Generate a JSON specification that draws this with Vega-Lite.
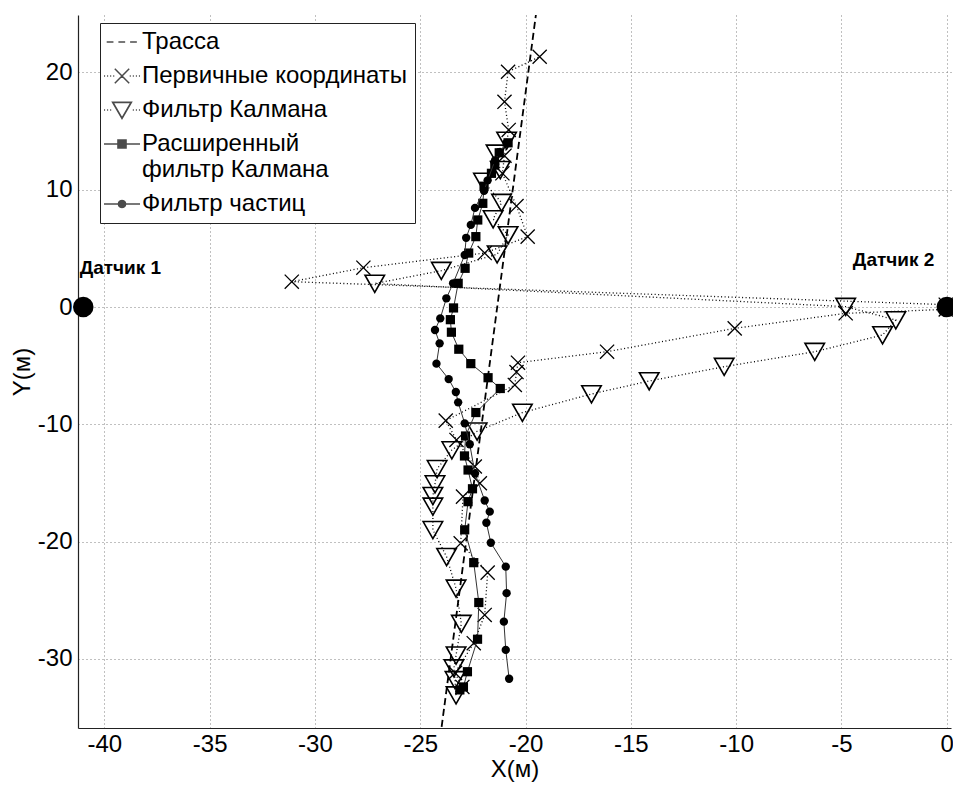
{
  "$schema": "https://vega.github.io/schema/vega-lite/v6.json",
  "width": 873,
  "height": 713,
  "autosize": "none",
  "padding": {"left": 78, "top": 15, "right": 2, "bottom": 59},
  "background": "white",
  "datasets": {
    "track": [{"i": 1, "x": -23.985, "y": -35.8}, {"i": 2, "x": -19.51, "y": 24.9}],
    "raw": [
      {"i": 1, "x": -23.0, "y": -32.4}, {"i": 2, "x": -23.35, "y": -31.2}, {"i": 3, "x": -22.46, "y": -28.67},
      {"i": 4, "x": -21.94, "y": -26.26}, {"i": 5, "x": -21.8, "y": -22.65}, {"i": 6, "x": -23.08, "y": -20.15},
      {"i": 7, "x": -22.97, "y": -16.17}, {"i": 8, "x": -22.17, "y": -15.03}, {"i": 9, "x": -22.41, "y": -13.6},
      {"i": 10, "x": -23.28, "y": -11.34}, {"i": 11, "x": -23.79, "y": -9.69}, {"i": 12, "x": -20.51, "y": -6.65},
      {"i": 13, "x": -20.43, "y": -5.55}, {"i": 14, "x": -20.36, "y": -4.75}, {"i": 15, "x": -16.13, "y": -3.81},
      {"i": 16, "x": -10.07, "y": -1.82}, {"i": 17, "x": -4.8, "y": -0.54}, {"i": 18, "x": -0.05, "y": -0.2},
      {"i": 19, "x": -0.05, "y": 0.2}, {"i": 20, "x": -31.1, "y": 2.16}, {"i": 21, "x": -27.7, "y": 3.35},
      {"i": 22, "x": -21.94, "y": 4.6}, {"i": 23, "x": -19.9, "y": 6.0}, {"i": 24, "x": -20.43, "y": 8.61},
      {"i": 25, "x": -21.1, "y": 11.4}, {"i": 26, "x": -21.0, "y": 12.9}, {"i": 27, "x": -20.8, "y": 15.1},
      {"i": 28, "x": -21.0, "y": 17.5}, {"i": 29, "x": -20.83, "y": 20.06}, {"i": 30, "x": -19.33, "y": 21.34}
    ],
    "kf": [
      {"i": 1, "x": -23.3, "y": -33.1}, {"i": 2, "x": -23.35, "y": -31.8}, {"i": 3, "x": -23.4, "y": -30.8},
      {"i": 4, "x": -23.3, "y": -29.7}, {"i": 5, "x": -23.05, "y": -27.0}, {"i": 6, "x": -23.3, "y": -24.0},
      {"i": 7, "x": -23.75, "y": -21.3}, {"i": 8, "x": -24.4, "y": -19.0}, {"i": 9, "x": -24.4, "y": -17.0},
      {"i": 10, "x": -24.4, "y": -16.1}, {"i": 11, "x": -24.3, "y": -15.1}, {"i": 12, "x": -24.2, "y": -13.8},
      {"i": 13, "x": -23.5, "y": -12.2}, {"i": 14, "x": -22.3, "y": -10.6}, {"i": 15, "x": -20.15, "y": -9.0},
      {"i": 16, "x": -16.87, "y": -7.42}, {"i": 17, "x": -14.13, "y": -6.31}, {"i": 18, "x": -10.57, "y": -5.09},
      {"i": 19, "x": -6.27, "y": -3.81}, {"i": 20, "x": -3.05, "y": -2.39}, {"i": 21, "x": -2.42, "y": -1.11},
      {"i": 22, "x": -4.8, "y": 0.03}, {"i": 23, "x": -27.16, "y": 2.0}, {"i": 24, "x": -24.0, "y": 3.1},
      {"i": 25, "x": -21.35, "y": 4.5}, {"i": 26, "x": -20.83, "y": 6.14}, {"i": 27, "x": -21.54, "y": 7.5},
      {"i": 28, "x": -21.14, "y": 8.9}, {"i": 29, "x": -22.0, "y": 10.7}, {"i": 30, "x": -21.2, "y": 11.7},
      {"i": 31, "x": -21.4, "y": 13.1}, {"i": 32, "x": -20.9, "y": 14.2}
    ],
    "ekf": [
      {"i": 1, "x": -23.12, "y": -32.65}, {"i": 2, "x": -22.95, "y": -32.4}, {"i": 3, "x": -22.76, "y": -31.1},
      {"i": 4, "x": -22.28, "y": -28.33}, {"i": 5, "x": -22.22, "y": -25.2}, {"i": 6, "x": -22.46, "y": -21.8},
      {"i": 7, "x": -22.89, "y": -19.0}, {"i": 8, "x": -22.73, "y": -16.6}, {"i": 9, "x": -22.52, "y": -15.5},
      {"i": 10, "x": -22.73, "y": -13.9}, {"i": 11, "x": -22.9, "y": -12.7}, {"i": 12, "x": -22.85, "y": -11.0},
      {"i": 13, "x": -22.36, "y": -9.0}, {"i": 14, "x": -21.2, "y": -6.95}, {"i": 15, "x": -21.78, "y": -6.03},
      {"i": 16, "x": -22.6, "y": -4.83}, {"i": 17, "x": -23.17, "y": -3.6}, {"i": 18, "x": -23.52, "y": -2.15},
      {"i": 19, "x": -23.57, "y": -1.08}, {"i": 20, "x": -23.42, "y": -0.08}, {"i": 21, "x": -23.2, "y": 2.02},
      {"i": 22, "x": -22.87, "y": 3.3}, {"i": 23, "x": -22.7, "y": 4.6}, {"i": 24, "x": -22.36, "y": 6.0},
      {"i": 25, "x": -22.27, "y": 7.42}, {"i": 26, "x": -22.03, "y": 8.84}, {"i": 27, "x": -21.97, "y": 10.3},
      {"i": 28, "x": -21.62, "y": 11.4}, {"i": 29, "x": -21.46, "y": 12.1}, {"i": 30, "x": -21.25, "y": 13.15},
      {"i": 31, "x": -20.83, "y": 14.0}
    ],
    "pf": [
      {"i": 1, "x": -20.78, "y": -31.7}, {"i": 2, "x": -20.94, "y": -29.24}, {"i": 3, "x": -21.03, "y": -26.83},
      {"i": 4, "x": -20.9, "y": -24.4}, {"i": 5, "x": -20.94, "y": -22.14}, {"i": 6, "x": -21.65, "y": -20.1},
      {"i": 7, "x": -21.86, "y": -18.4}, {"i": 8, "x": -21.7, "y": -17.45}, {"i": 9, "x": -21.94, "y": -16.5},
      {"i": 10, "x": -22.4, "y": -14.2}, {"i": 11, "x": -22.65, "y": -11.7}, {"i": 12, "x": -22.89, "y": -9.92},
      {"i": 13, "x": -23.2, "y": -8.13}, {"i": 14, "x": -23.31, "y": -7.25}, {"i": 15, "x": -23.65, "y": -6.15},
      {"i": 16, "x": -24.23, "y": -4.83}, {"i": 17, "x": -24.08, "y": -3.1}, {"i": 18, "x": -24.3, "y": -1.96},
      {"i": 19, "x": -24.05, "y": -0.97}, {"i": 20, "x": -23.76, "y": 0.74}, {"i": 21, "x": -23.44, "y": 2.02},
      {"i": 22, "x": -22.89, "y": 4.43}, {"i": 23, "x": -22.82, "y": 5.9}, {"i": 24, "x": -22.6, "y": 7.0},
      {"i": 25, "x": -22.4, "y": 8.45}, {"i": 26, "x": -21.97, "y": 9.9}, {"i": 27, "x": -21.8, "y": 10.8},
      {"i": 28, "x": -21.45, "y": 12.5}, {"i": 29, "x": -21.25, "y": 13.2}, {"i": 30, "x": -20.9, "y": 14.0}
    ],
    "sensors": [{"x": -41.0, "y": 0.0}, {"x": 0.0, "y": 0.0}],
    "labels": [{"x": -41.17, "y": 3.34, "t": "Датчик 1"}, {"x": -4.46, "y": 4.0, "t": "Датчик 2"}]
  },
  "layer": [
    {
      "data": {"name": "track"},
      "mark": {"type": "line", "color": "black", "strokeWidth": 1.8, "strokeDash": [7, 4]},
      "encoding": {
        "x": {"field": "x", "type": "quantitative",
          "scale": {"domain": [-41.25, 0.2], "nice": false, "zero": false},
          "axis": {"values": [-40, -35, -30, -25, -20, -15, -10, -5, 0], "title": "X(м)", "labelFlush": false, "labelOverlap": false, "labelPadding": 4, "titlePadding": 1}},
        "y": {"field": "y", "type": "quantitative",
          "scale": {"domain": [-35.9, 24.9], "nice": false, "zero": false},
          "axis": {"values": [-30, -20, -10, 0, 10, 20], "title": "Y(м)", "labelOverlap": false, "labelPadding": 6, "titlePadding": 3}},
        "order": {"field": "i", "type": "quantitative"}
      }
    },
    {
      "data": {"name": "raw"},
      "mark": {"type": "line", "color": "black", "strokeWidth": 1.3, "strokeDash": [1, 2.5]},
      "encoding": {"x": {"field": "x", "type": "quantitative"}, "y": {"field": "y", "type": "quantitative"}, "order": {"field": "i", "type": "quantitative"}}
    },
    {
      "data": {"name": "raw"},
      "mark": {"type": "point", "shape": "M-1,-1L1,1M-1,1L1,-1", "size": 200, "filled": false, "color": "black", "strokeWidth": 1.3, "opacity": 1},
      "encoding": {"x": {"field": "x", "type": "quantitative"}, "y": {"field": "y", "type": "quantitative"}}
    },
    {
      "data": {"name": "kf"},
      "mark": {"type": "line", "color": "black", "strokeWidth": 1.3, "strokeDash": [1, 2.5]},
      "encoding": {"x": {"field": "x", "type": "quantitative"}, "y": {"field": "y", "type": "quantitative"}, "order": {"field": "i", "type": "quantitative"}}
    },
    {
      "data": {"name": "kf"},
      "mark": {"type": "point", "shape": "M-1,-0.85L1,-0.85L0,0.9Z", "size": 380, "filled": false, "color": "black", "strokeWidth": 1.6, "opacity": 1},
      "encoding": {"x": {"field": "x", "type": "quantitative"}, "y": {"field": "y", "type": "quantitative"}}
    },
    {
      "data": {"name": "ekf"},
      "mark": {"type": "line", "color": "#333333", "strokeWidth": 1},
      "encoding": {"x": {"field": "x", "type": "quantitative"}, "y": {"field": "y", "type": "quantitative"}, "order": {"field": "i", "type": "quantitative"}}
    },
    {
      "data": {"name": "ekf"},
      "mark": {"type": "point", "shape": "square", "size": 85, "filled": true, "color": "black", "opacity": 1},
      "encoding": {"x": {"field": "x", "type": "quantitative"}, "y": {"field": "y", "type": "quantitative"}}
    },
    {
      "data": {"name": "pf"},
      "mark": {"type": "line", "color": "#333333", "strokeWidth": 1},
      "encoding": {"x": {"field": "x", "type": "quantitative"}, "y": {"field": "y", "type": "quantitative"}, "order": {"field": "i", "type": "quantitative"}}
    },
    {
      "data": {"name": "pf"},
      "mark": {"type": "point", "shape": "circle", "size": 70, "filled": true, "color": "black", "opacity": 1},
      "encoding": {"x": {"field": "x", "type": "quantitative"}, "y": {"field": "y", "type": "quantitative"}}
    },
    {
      "data": {"name": "sensors"},
      "mark": {"type": "point", "shape": "circle", "size": 420, "filled": true, "color": "black", "opacity": 1},
      "encoding": {"x": {"field": "x", "type": "quantitative"}, "y": {"field": "y", "type": "quantitative"}}
    },
    {
      "data": {"name": "labels"},
      "mark": {"type": "text", "align": "left", "baseline": "middle", "font": "Liberation Sans", "fontWeight": "bold", "fontSize": 19, "color": "black"},
      "encoding": {"x": {"field": "x", "type": "quantitative"}, "y": {"field": "y", "type": "quantitative"}, "text": {"field": "t", "type": "nominal"}}
    },
    {
      "data": {"values": []},
      "mark": {"type": "point", "filled": true, "fill": "black", "stroke": "black", "strokeWidth": 1.5},
      "encoding": {
        "shape": {
          "field": "s", "type": "nominal",
          "scale": {
            "domain": ["Трасса", "Первичные координаты", "Фильтр Калмана", "Расширенный фильтр Калмана", "Фильтр частиц"],
            "range": [
              "M-1.7,0H-0.95M-0.4,0H0.35M0.9,0H1.65",
              "M-2,0H-1.88M-1.66,0H-1.54M-1.32,0H-1.2M-0.98,0H-0.86M-0.8,-0.8L0.8,0.8M-0.8,0.8L0.8,-0.8M0.86,0H0.98M1.2,0H1.32M1.54,0H1.66M1.88,0H2",
              "M-2,0H-1.88M-1.66,0H-1.54M-1.32,0H-1.2M-1.05,-0.85L1.05,-0.85L0,0.95ZM-0.99,-0.82L0,0.89L0.99,-0.82ZM1.2,0H1.32M1.54,0H1.66M1.88,0H2",
              "M-2,0H2M-0.45,-0.45H0.45V0.45H-0.45Z",
              "M-2,0H2M0.4,0L0.35,0.2L0.2,0.35L0,0.4L-0.2,0.35L-0.35,0.2L-0.4,0L-0.35,-0.2L-0.2,-0.35L0,-0.4L0.2,-0.35L0.35,-0.2Z"
            ]
          },
          "legend": {
            "title": null,
            "orient": "none",
            "legendX": 22,
            "legendY": 8,
            "strokeColor": "#222222",
            "fillColor": "white",
            "padding": 7,
            "rowPadding": 10,
            "symbolSize": 324,
            "symbolStrokeWidth": 1.5,
            "symbolOffset": 3,
            "labelOffset": 8,
            "labelFontSize": 24,
            "labelFont": "Liberation Sans",
            "labelColor": "black",
            "labelLimit": 500,
            "labelExpr": "datum.label == 'Расширенный фильтр Калмана' ? ['Расширенный', '\u00a0фильтр Калмана'] : datum.label",
            "encode": {
              "symbols": {
                "fill": {"condition": {"test": "datum.value === 'Фильтр Калмана'", "value": "white"}, "value": "black"},
                "fillOpacity": {"value": 1},
                "stroke": {"value": "black"},
                "strokeOpacity": {"value": 1},
                "strokeWidth": {"value": 1.5},
                "opacity": {"value": 1}
              },
              "labels": {"lineHeight": {"value": 28}}
            }
          }
        }
      }
    }
  ],
  "config": {
    "view": {"stroke": null},
    "font": "Liberation Sans",
    "axis": {
      "grid": true,
      "gridColor": "#808080",
      "gridDash": [1, 3],
      "gridWidth": 1,
      "ticks": false,
      "domainColor": "#222222",
      "domainWidth": 1.2,
      "labelFont": "Liberation Sans",
      "labelFontSize": 24,
      "labelColor": "black",
      "labelExpr": "replace(datum.label, '−', '-')",
      "titleFont": "Liberation Sans",
      "titleFontSize": 24,
      "titleFontWeight": "normal",
      "titleColor": "black"
    }
  }
}
